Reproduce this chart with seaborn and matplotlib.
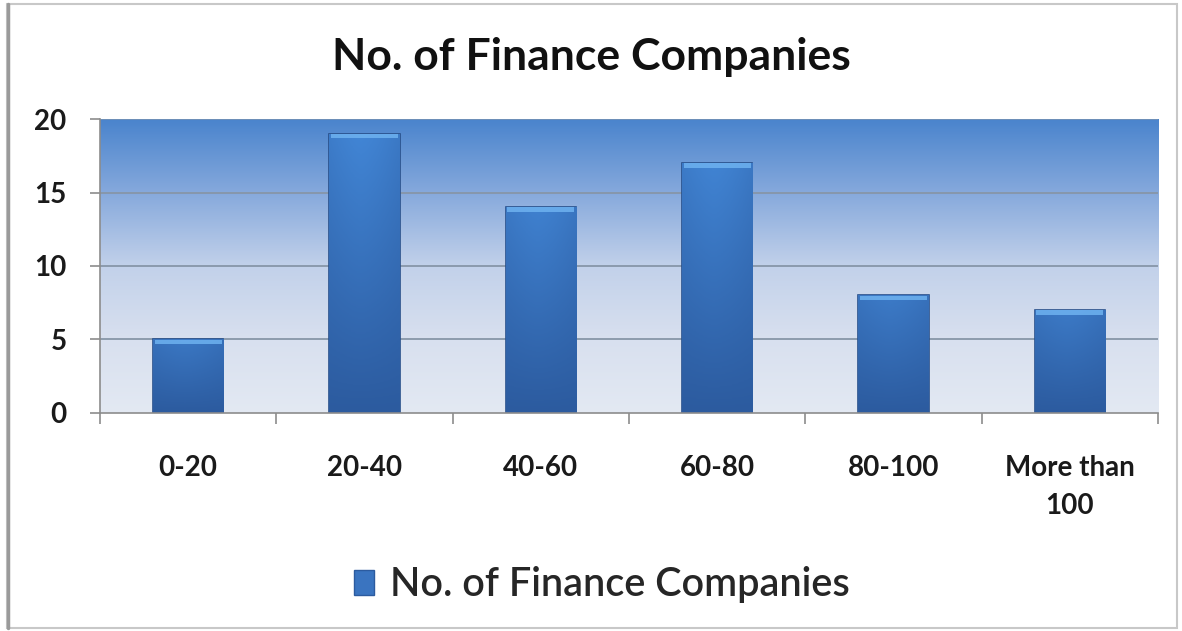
import numpy as np
import pandas as pd
import matplotlib
matplotlib.use("Agg")
import matplotlib.pyplot as plt
from matplotlib.colors import LinearSegmentedColormap
from matplotlib.patches import Patch, Rectangle
import seaborn as sns

categories = ["0-20", "20-40", "40-60", "60-80", "80-100", "More than\n100"]
companies = [5, 19, 14, 17, 8, 7]
series_name = "No. of Finance Companies"
y_ticks = [0, 5, 10, 15, 20]

sns.set_theme(style="white")
plt.rcParams["font.family"] = ["Lato", "DejaVu Sans"]

df = pd.DataFrame({"range": categories, "count": companies})

fig = plt.figure(figsize=(11.82, 6.31), dpi=100)
ax = fig.add_axes([0.0846, 0.3455, 0.8951, 0.4659])

sns.barplot(data=df, x="range", y="count", ax=ax, width=0.4,
            color="#3a74c0", saturation=1, zorder=3)

ax.set_xlim(-0.5, len(categories) - 0.5)
ax.set_ylim(0, 20)

# plot-area background: deep blue at the top fading to pale blue-grey
bg_cmap = LinearSegmentedColormap.from_list(
    "bg", [(0.0, "#e3e9f3"), (0.25, "#d8e0ef"), (0.5, "#c2d1ea"),
           (0.75, "#86a9dc"), (1.0, "#4a84cd")])
grad = np.linspace(0, 1, 256).reshape(-1, 1)
ax.imshow(grad, cmap=bg_cmap, origin="lower", aspect="auto",
          extent=(-0.5, len(categories) - 0.5, 0, 20), zorder=0)

for y in y_ticks[1:-1]:
    ax.axhline(y, color="#8796a8", lw=1.3, zorder=1)
ax.axhline(20, color="#6d8fb8", lw=1.5, zorder=1)

# shaded bar faces with a light bevel on top
bar_cmap = LinearSegmentedColormap.from_list(
    "bar", [(0.0, "#2c5b9f"), (1.0, "#4286d6")])
xs = np.linspace(0, 1, 64)
side = 1 - 0.35 * np.abs(xs - 0.45) ** 1.5 * 2
for patch in list(ax.patches):
    x0, w, h = patch.get_x(), patch.get_width(), patch.get_height()
    vert = np.linspace(0, 1, 128).reshape(-1, 1) * (0.55 + 0.45 * h / 20)
    img = vert * side.reshape(1, -1)
    im = ax.imshow(img, cmap=bar_cmap, vmin=0, vmax=1, origin="lower",
                   aspect="auto", extent=(x0, x0 + w, 0, h), zorder=4)
    im.set_clip_path(patch)
    patch.set_edgecolor("#274f8a")
    patch.set_linewidth(1.2)
    ax.add_patch(Rectangle((x0 + 0.01, h - 0.32), w - 0.02, 0.3,
                           facecolor="#6eb2f0", edgecolor="none",
                           alpha=0.85, zorder=5))

for s in ["top", "right"]:
    ax.spines[s].set_visible(False)
for s in ["left", "bottom"]:
    ax.spines[s].set_color("#8c8c8c")
    ax.spines[s].set_linewidth(1.2)
    ax.spines[s].set_zorder(6)

ax.set_yticks(y_ticks)
ax.set_yticklabels([str(v) for v in y_ticks], fontsize=20, fontweight="bold",
                   color="#1a1a1a")
ax.set_xticks(range(len(categories)))
ax.set_xticklabels(categories, fontsize=20, fontweight="bold", color="#1a1a1a",
                   linespacing=1.6)
ax.tick_params(axis="x", length=0, pad=30)
ax.tick_params(axis="y", length=7, width=1.2, color="#8c8c8c", left=True,
               pad=17)
ax.set_xticks(np.arange(-0.5, len(categories)), minor=True)
ax.tick_params(axis="x", which="minor", length=8, width=1.2,
               color="#8c8c8c", bottom=True)
ax.set_xlabel("")
ax.set_ylabel("")

fig.text(0.5, 0.91, series_name, ha="center", va="center", fontsize=32,
         fontweight="bold", color="#111111")

handle = Patch(facecolor="#3a74c0", edgecolor="#2c5b9f")
fig.legend([handle], [series_name], loc="center", bbox_to_anchor=(0.509, 0.073),
           frameon=False, handlelength=0.5, handleheight=0.6,
           handletextpad=0.4,
           prop={"size": 28.5, "weight": "semibold", "family": ["Lato"]})

# outer chart frame
fig.add_artist(Rectangle((0.006, 0.005), 0.99, 0.988, transform=fig.transFigure,
                         fill=False, edgecolor="#c8c8c8", lw=1.5))
fig.add_artist(plt.Line2D([0.0065, 0.0065], [0.005, 0.993],
                          transform=fig.transFigure, color="#9a9a9a", lw=2.5))

fig.savefig("out.png", dpi=100, facecolor="white")
